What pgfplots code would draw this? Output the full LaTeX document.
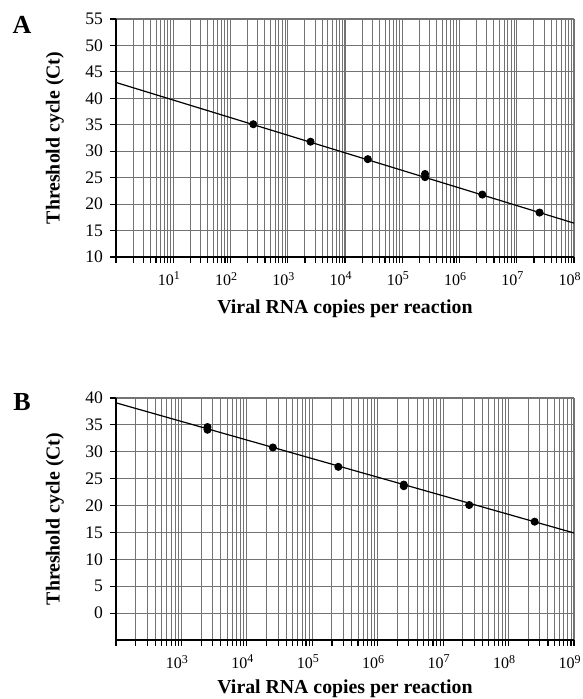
\documentclass[border=0pt]{standalone}
\usepackage{fontspec}
\setmainfont{Liberation Serif}
\usepackage{pgfplots}
\pgfplotsset{compat=1.18}
\pgfplotsset{
 every axis/.append style={
  scale only axis, width=229pt,
  axis x line*=bottom, axis y line*=left,
  axis line style={black, line width=0.75pt},
  tick align=outside,
  major tick length=3pt, minor tick length=3pt,
  every tick/.style={black, line width=0.55pt},
  grid=both,
  major grid style={black!55, line width=0.55pt},
  minor grid style={black!55, line width=0.5pt},
  yticklabel style={font=\fontsize{8.8}{9}\selectfont},
  xticklabel style={font=\fontsize{8}{9}\selectfont, yshift=-1pt, xshift=-2pt},
  /pgf/number format/assume math mode=true,
  label style={font=\bfseries\fontsize{9.9}{11}\selectfont},
 }
}
\begin{document}
\begin{tikzpicture}
% Panel A
\begin{axis}[xmode=log, height=119pt,
  at={(58pt,-9.5pt)}, anchor=north west,
  xmin=1, xmax=1e8, ymin=10, ymax=55,
  ytick={10,15,...,55},
  xtick={1,10,100,1000,10000,100000,1000000,10000000,100000000},
  xticklabels={,10\textsuperscript{1},10\textsuperscript{2},10\textsuperscript{3},10\textsuperscript{4},10\textsuperscript{5},10\textsuperscript{6},10\textsuperscript{7},10\textsuperscript{8}},
  ylabel={Threshold cycle (Ct)},
  xlabel={Viral RNA copies per reaction},
  ylabel style={at={(axis description cs:0,0.5)}, anchor=center, yshift=30.5pt},
  xlabel style={at={(axis description cs:0.5,0)}, anchor=center, yshift=-26pt},
]
\addplot[black, line width=0.6pt, no marks] coordinates {(1,43.0) (1e8,16.4)};
\addplot[only marks, mark=*, mark size=1.8pt, black] coordinates {
 (250,35.1) (2500,31.8) (25000,28.5) (250000,25.7) (250000,25.1) (2500000,21.8) (25000000,18.4)};
\end{axis}
% Panel B
\begin{axis}[xmode=log, height=121pt,
  at={(58pt,-199pt)}, anchor=north west,
  xmin=100, xmax=1e9, ymin=-5, ymax=40,
  ytick={0,5,...,40},
  xtick={100,1000,10000,100000,1000000,10000000,100000000,1000000000},
  xticklabels={,10\textsuperscript{3},10\textsuperscript{4},10\textsuperscript{5},10\textsuperscript{6},10\textsuperscript{7},10\textsuperscript{8},10\textsuperscript{9}},
  ylabel={Threshold cycle (Ct)},
  xlabel={Viral RNA copies per reaction},
  ylabel style={at={(axis description cs:0,0.5)}, anchor=center, yshift=30.5pt},
  xlabel style={at={(axis description cs:0.5,0)}, anchor=center, yshift=-24.5pt},
]
\addplot[black, line width=0.6pt, no marks] coordinates {(100,39.1) (1e9,14.9)};
\addplot[only marks, mark=*, mark size=1.8pt, black] coordinates {
 (2500,34.6) (2500,34.1) (25000,30.8) (250000,27.2) (2500000,23.9) (2500000,23.6) (25000000,20.1) (250000000,17.0)};
\end{axis}
\node[font=\bfseries\fontsize{13}{14}\selectfont] at (11pt,-12.5pt) {A};
\node[font=\bfseries\fontsize{13}{14}\selectfont] at (11pt,-201pt) {B};
\pgfresetboundingbox
\path[use as bounding box] (0,0) rectangle (291pt,-349.5pt);
\end{tikzpicture}
\end{document}
